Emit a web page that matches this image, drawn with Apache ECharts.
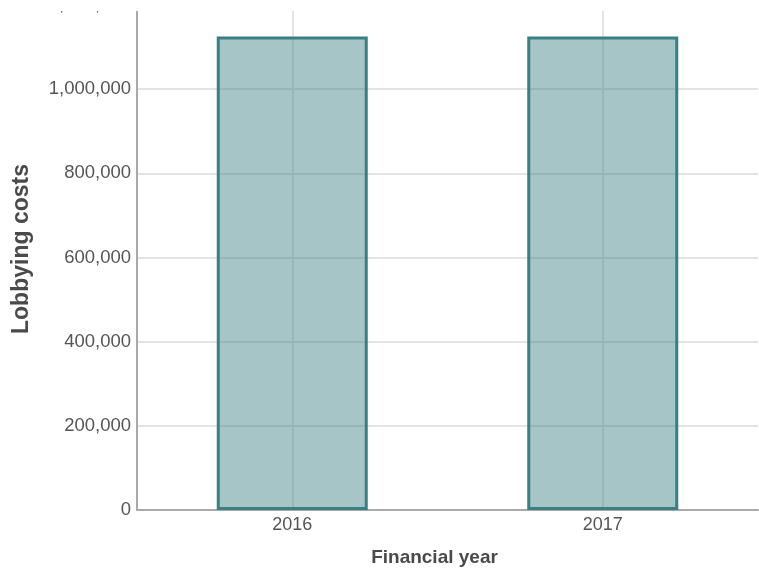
<!DOCTYPE html>
<html>
<head>
<meta charset="utf-8">
<script src="https://cdn.jsdelivr.net/npm/echarts@6/dist/echarts.min.js"></script>
<style>
html,body{margin:0;padding:0;background:#fff;}
#chart{width:759px;height:571px;}
</style>
</head>
<body>
<div id="chart"></div>
<script>
const categories = ['2016', '2017'];
const lobbyingCosts = [1125000, 1125000];
const yTicks = [0, 200000, 400000, 600000, 800000, 1000000, 1200000];

const chart = echarts.init(document.getElementById('chart'), null, {renderer: 'canvas'});
const fmt = v => v.toString().replace(/\B(?=(\d{3})+(?!\d))/g, ',');

chart.setOption({
  animation: false,
  backgroundColor: '#ffffff',
  grid: {left: 137, right: 1, top: 5, bottom: 61, containLabel: false, outerBoundsMode: 'none'},
  xAxis: {
    type: 'category',
    data: categories,
    name: 'Financial year',
    nameLocation: 'middle',
    nameGap: 38,
    nameTextStyle: {fontFamily: 'Liberation Sans, Arial, sans-serif', fontSize: 19, fontWeight: 'bold', color: '#4a4a4a', padding: [0, 26, 0, 0]},
    axisLine: {show: true, lineStyle: {color: '#a9a9a9', width: 2}},
    axisTick: {show: false},
    axisLabel: {fontFamily: 'Liberation Sans, Arial, sans-serif', fontSize: 18, color: '#555', margin: 6},
    splitLine: {show: true, alignWithLabel: true, lineStyle: {color: '#e4e4e4', width: 2}}
  },
  yAxis: {
    type: 'value',
    min: yTicks[0],
    max: yTicks[yTicks.length - 1],
    interval: yTicks[1] - yTicks[0],
    name: 'Lobbying costs',
    nameLocation: 'middle',
    nameGap: 104,
    nameTextStyle: {fontFamily: 'Liberation Sans, Arial, sans-serif', fontSize: 23, fontWeight: 'bold', color: '#4a4a4a', padding: [0, 0, 0, 17]},
    axisLine: {show: true, lineStyle: {color: '#a9a9a9', width: 2}},
    axisTick: {show: false},
    axisLabel: {fontFamily: 'Liberation Sans, Arial, sans-serif', fontSize: 18.5, color: '#555', margin: 6, formatter: fmt},
    splitLine: {show: true, lineStyle: {color: '#e4e4e4', width: 2}}
  },
  series: [{
    type: 'bar',
    data: lobbyingCosts,
    barWidth: 151,
    z: 3,
    itemStyle: {
      color: 'rgba(58,127,130,0.45)',
      borderColor: '#3a7f82',
      borderWidth: 3
    }
  }],
  graphic: [{
    type: 'rect',
    zlevel: 1,
    z: 100,
    shape: {x: 0, y: 0, width: 759, height: 11},
    style: {fill: '#ffffff'}
  }]
});
</script>
</body>
</html>
